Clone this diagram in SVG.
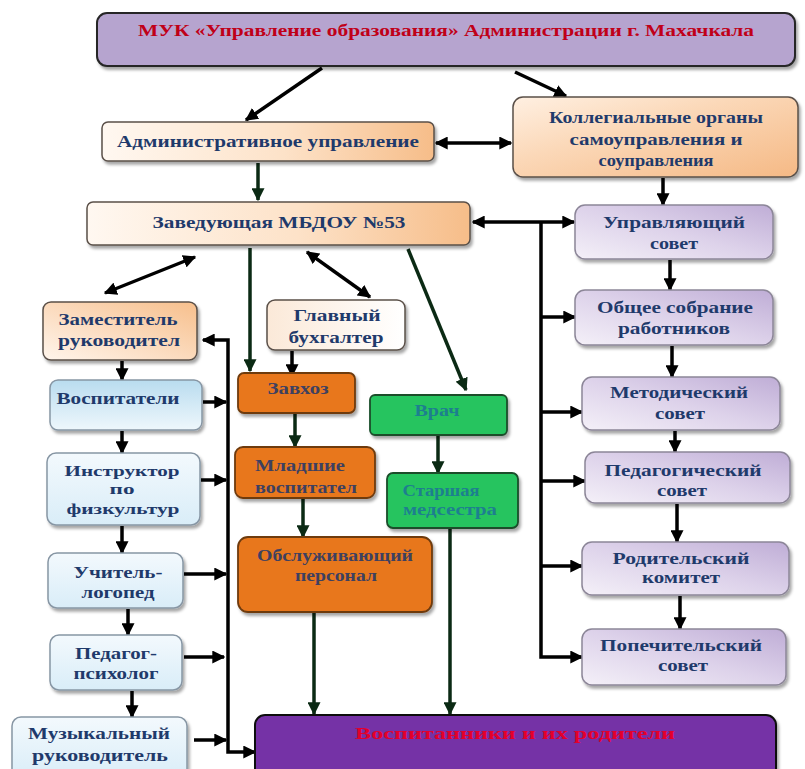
<svg xmlns="http://www.w3.org/2000/svg" width="805" height="769" viewBox="0 0 805 769">
<defs>
  <linearGradient id="peachH" x1="0" y1="0" x2="1" y2="0">
    <stop offset="0" stop-color="#fff8f1"/>
    <stop offset="0.55" stop-color="#fde2c8"/>
    <stop offset="1" stop-color="#f6bd89"/>
  </linearGradient>
  <linearGradient id="peachD" x1="0" y1="1" x2="1" y2="0">
    <stop offset="0" stop-color="#fff5ec"/>
    <stop offset="1" stop-color="#f7bf8c"/>
  </linearGradient>
  <linearGradient id="koll" x1="0" y1="0" x2="1" y2="1">
    <stop offset="0" stop-color="#fff0e2"/>
    <stop offset="0.4" stop-color="#fbd8b8"/>
    <stop offset="1" stop-color="#f5b985"/>
  </linearGradient>
  <linearGradient id="pale" x1="0" y1="0" x2="1" y2="0">
    <stop offset="0" stop-color="#fbe9d8"/>
    <stop offset="1" stop-color="#ffffff"/>
  </linearGradient>
  <linearGradient id="lav" x1="0" y1="1" x2="1" y2="0">
    <stop offset="0" stop-color="#f4f0f8"/>
    <stop offset="0.5" stop-color="#ddd2ea"/>
    <stop offset="1" stop-color="#bfadd6"/>
  </linearGradient>
  <linearGradient id="blue" x1="0" y1="0" x2="0" y2="1">
    <stop offset="0" stop-color="#b9dcef"/>
    <stop offset="1" stop-color="#eef7fc"/>
  </linearGradient>
  <linearGradient id="lblue" x1="0" y1="0" x2="0" y2="1">
    <stop offset="0" stop-color="#f3f9fd"/>
    <stop offset="1" stop-color="#d9edf8"/>
  </linearGradient>
  <filter id="sh" x="-10%" y="-10%" width="125%" height="140%">
    <feDropShadow dx="2" dy="3" stdDeviation="1.5" flood-color="#000" flood-opacity="0.35"/>
  </filter>
  <marker id="ah" viewBox="0 0 10 10" refX="9" refY="5" markerUnits="userSpaceOnUse" markerWidth="13" markerHeight="13" orient="auto-start-reverse">
    <path d="M0,0 L10,5 L0,10 z" fill="#000"/>
  </marker>
  <marker id="ag" viewBox="0 0 10 10" refX="9" refY="5" markerUnits="userSpaceOnUse" markerWidth="13" markerHeight="13" orient="auto-start-reverse">
    <path d="M0,0 L10,5 L0,10 z" fill="#0b2a14"/>
  </marker>
</defs>
<style>
  .t{font-family:"Liberation Serif","Times New Roman",serif;font-weight:bold;font-size:17px;text-anchor:middle}
  .s{font-size:15.5px}
  .navy{fill:#1f3a6b}
  .red{fill:#c00018}
  .slate{fill:#3d4060}
  .teal{fill:#1d7f8f}
  .ln{fill:none;stroke:#000;stroke-width:3.5}
  .lg{fill:none;stroke:#0b2a14;stroke-width:3.5}
  .pe{stroke:#5a5048;stroke-width:1.5}
  .lv{fill:url(#lav);stroke:#8c8698;stroke-width:1.5}
  .lb{stroke:#8796a4;stroke-width:1.5}
  .or{fill:#e8771f;stroke:#6e3a0c;stroke-width:1.8}
  .gr{fill:#25c45f;stroke:#1b4d2a;stroke-width:1.8}
</style>
<rect width="805" height="769" fill="#ffffff"/>

<g id="connectors">
  <line class="ln" x1="322" y1="68" x2="246" y2="120" marker-end="url(#ah)"/>
  <line class="ln" x1="515" y1="72" x2="566" y2="96" marker-end="url(#ah)"/>
  <line class="ln" x1="436" y1="143" x2="511" y2="143" marker-start="url(#ah)" marker-end="url(#ah)"/>
  <line class="lg" x1="258" y1="163" x2="258" y2="200" marker-end="url(#ag)"/>
  <line class="ln" x1="663" y1="178" x2="663" y2="205" marker-end="url(#ah)"/>
  <line class="ln" x1="473" y1="222" x2="574" y2="222" marker-start="url(#ah)" marker-end="url(#ah)"/>
  <path class="ln" d="M541,222 V657 H582" marker-end="url(#ah)"/>
  <line class="ln" x1="541" y1="317" x2="575" y2="317" marker-end="url(#ah)"/>
  <line class="ln" x1="541" y1="412" x2="582" y2="412" marker-end="url(#ah)"/>
  <line class="ln" x1="541" y1="481" x2="585" y2="481" marker-end="url(#ah)"/>
  <line class="ln" x1="541" y1="566" x2="582" y2="566" marker-end="url(#ah)"/>
  <line class="ln" x1="670" y1="260" x2="670" y2="290" marker-end="url(#ah)"/>
  <line class="ln" x1="672" y1="346" x2="672" y2="377" marker-end="url(#ah)"/>
  <line class="ln" x1="675" y1="431" x2="675" y2="452" marker-end="url(#ah)"/>
  <line class="ln" x1="677" y1="504" x2="677" y2="542" marker-end="url(#ah)"/>
  <line class="ln" x1="680" y1="596" x2="680" y2="629" marker-end="url(#ah)"/>
  <line class="ln" x1="195" y1="257" x2="105" y2="293" marker-start="url(#ah)" marker-end="url(#ah)"/>
  <line class="lg" x1="250" y1="248" x2="250" y2="371" marker-end="url(#ag)"/>
  <line class="ln" x1="307" y1="252" x2="370" y2="297" marker-start="url(#ah)" marker-end="url(#ah)"/>
  <line class="lg" x1="408" y1="249" x2="466" y2="390" marker-end="url(#ag)"/>
  <line class="ln" x1="292" y1="351" x2="292" y2="376" marker-end="url(#ah)"/>
  <line class="lg" x1="295" y1="414" x2="295" y2="447" marker-end="url(#ag)"/>
  <line class="lg" x1="303" y1="499" x2="303" y2="537" marker-end="url(#ag)"/>
  <line class="lg" x1="438" y1="436" x2="438" y2="473" marker-end="url(#ag)"/>
  <line class="lg" x1="450" y1="529" x2="450" y2="714" marker-end="url(#ag)"/>
  <line class="lg" x1="314" y1="613" x2="314" y2="714" marker-end="url(#ag)"/>
  <line class="ln" x1="122" y1="361" x2="122" y2="380" marker-end="url(#ah)"/>
  <line class="ln" x1="122" y1="431" x2="122" y2="453" marker-end="url(#ah)"/>
  <line class="ln" x1="122" y1="526" x2="122" y2="553" marker-end="url(#ah)"/>
  <line class="ln" x1="128" y1="609" x2="128" y2="635" marker-end="url(#ah)"/>
  <line class="ln" x1="132" y1="691" x2="132" y2="717" marker-end="url(#ah)"/>
  <path class="ln" d="M203,340 H228 V752 H255" marker-start="url(#ah)" marker-end="url(#ah)"/>
  <line class="ln" x1="203" y1="402" x2="226" y2="402" marker-end="url(#ah)"/>
  <line class="ln" x1="201" y1="480" x2="226" y2="480" marker-end="url(#ah)"/>
  <line class="ln" x1="184" y1="574" x2="226" y2="574" marker-end="url(#ah)"/>
  <line class="ln" x1="184" y1="657" x2="224" y2="657" marker-end="url(#ah)"/>
  <line class="ln" x1="194" y1="740" x2="226" y2="740" marker-end="url(#ah)"/>
</g>

<g id="muk">
  <rect x="97" y="13" width="698" height="53" rx="10" fill="#b6a4cf" stroke="#262626" stroke-width="2" filter="url(#sh)"/>
  <text class="t red" x="446" y="36" textLength="616" lengthAdjust="spacingAndGlyphs">МУК «Управление образования» Администрации г. Махачкала</text>
</g>
<g id="adm">
  <rect x="102" y="122" width="332" height="39" rx="6" fill="url(#peachH)" class="pe" filter="url(#sh)"/>
  <text class="t navy" x="268" y="147" textLength="302" lengthAdjust="spacingAndGlyphs">Административное управление</text>
</g>
<g id="koll">
  <rect x="513" y="97" width="285" height="80" rx="10" fill="url(#koll)" class="pe" filter="url(#sh)"/>
  <text class="t navy" x="656" y="123" textLength="214" lengthAdjust="spacingAndGlyphs">Коллегиальные органы</text>
  <text class="t navy" x="656" y="145" textLength="173" lengthAdjust="spacingAndGlyphs">самоуправления и</text>
  <text class="t navy" x="656" y="166" textLength="115" lengthAdjust="spacingAndGlyphs">соуправления</text>
</g>
<g id="zav">
  <rect x="87" y="202" width="383" height="43" rx="6" fill="url(#peachH)" class="pe" filter="url(#sh)"/>
  <text class="t navy" x="279" y="228" textLength="253" lengthAdjust="spacingAndGlyphs">Заведующая МБДОУ №53</text>
</g>
<g id="upr">
  <rect x="575" y="205" width="198" height="54" rx="10" class="lv" filter="url(#sh)"/>
  <text class="t navy" x="674" y="228" textLength="142" lengthAdjust="spacingAndGlyphs">Управляющий</text>
  <text class="t navy" x="674" y="249" textLength="48" lengthAdjust="spacingAndGlyphs">совет</text>
</g>
<g id="obsh">
  <rect x="575" y="290" width="198" height="55" rx="10" class="lv" filter="url(#sh)"/>
  <text class="t navy" x="675" y="313" textLength="156" lengthAdjust="spacingAndGlyphs">Общее собрание</text>
  <text class="t navy" x="674" y="334" textLength="112" lengthAdjust="spacingAndGlyphs">работников</text>
</g>
<g id="metod">
  <rect x="582" y="377" width="198" height="53" rx="10" class="lv" filter="url(#sh)"/>
  <text class="t navy" x="679" y="398" textLength="138" lengthAdjust="spacingAndGlyphs">Методический</text>
  <text class="t navy" x="680" y="419" textLength="50" lengthAdjust="spacingAndGlyphs">совет</text>
</g>
<g id="ped">
  <rect x="585" y="452" width="205" height="51" rx="10" class="lv" filter="url(#sh)"/>
  <text class="t navy" x="683" y="476" textLength="157" lengthAdjust="spacingAndGlyphs">Педагогический</text>
  <text class="t navy" x="682" y="496" textLength="50" lengthAdjust="spacingAndGlyphs">совет</text>
</g>
<g id="rod">
  <rect x="582" y="542" width="207" height="53" rx="10" class="lv" filter="url(#sh)"/>
  <text class="t navy" x="681" y="564" textLength="137" lengthAdjust="spacingAndGlyphs">Родительский</text>
  <text class="t navy" x="681" y="583" textLength="78" lengthAdjust="spacingAndGlyphs">комитет</text>
</g>
<g id="pop">
  <rect x="582" y="629" width="204" height="56" rx="10" class="lv" filter="url(#sh)"/>
  <text class="t navy" x="681" y="651" textLength="162" lengthAdjust="spacingAndGlyphs">Попечительский</text>
  <text class="t navy" x="683" y="671" textLength="50" lengthAdjust="spacingAndGlyphs">совет</text>
</g>
<g id="zam">
  <rect x="43" y="302" width="154" height="58" rx="8" fill="url(#peachD)" class="pe" filter="url(#sh)"/>
  <text class="t navy" x="118" y="325" textLength="119" lengthAdjust="spacingAndGlyphs">Заместитель</text>
  <text class="t navy" x="119" y="346" textLength="122" lengthAdjust="spacingAndGlyphs">руководител</text>
</g>
<g id="vosp">
  <rect x="50" y="380" width="152" height="50" rx="8" fill="url(#blue)" class="lb" filter="url(#sh)"/>
  <text class="t navy" x="118" y="404" textLength="123" lengthAdjust="spacingAndGlyphs">Воспитатели</text>
</g>
<g id="instr">
  <rect x="47" y="453" width="153" height="72" rx="9" fill="url(#lblue)" class="lb" filter="url(#sh)"/>
  <text class="t s navy" x="122" y="476" textLength="115" lengthAdjust="spacingAndGlyphs">Инструктор</text>
  <text class="t s navy" x="122" y="494" textLength="25" lengthAdjust="spacingAndGlyphs">по</text>
  <text class="t s navy" x="123" y="514" textLength="113" lengthAdjust="spacingAndGlyphs">физкультур</text>
</g>
<g id="uch">
  <rect x="48" y="553" width="135" height="55" rx="9" fill="url(#lblue)" class="lb" filter="url(#sh)"/>
  <text class="t navy" x="118" y="578" textLength="89" lengthAdjust="spacingAndGlyphs">Учитель-</text>
  <text class="t navy" x="118" y="598" textLength="73" lengthAdjust="spacingAndGlyphs">логопед</text>
</g>
<g id="psy">
  <rect x="50" y="635" width="132" height="55" rx="9" fill="url(#lblue)" class="lb" filter="url(#sh)"/>
  <text class="t navy" x="116" y="659" textLength="82" lengthAdjust="spacingAndGlyphs">Педагог-</text>
  <text class="t navy" x="116" y="679" textLength="85" lengthAdjust="spacingAndGlyphs">психолог</text>
</g>
<g id="muz">
  <rect x="12" y="717" width="175" height="62" rx="9" fill="url(#lblue)" class="lb" filter="url(#sh)"/>
  <text class="t navy" x="99" y="739" textLength="142" lengthAdjust="spacingAndGlyphs">Музыкальный</text>
  <text class="t navy" x="100" y="761" textLength="136" lengthAdjust="spacingAndGlyphs">руководитель</text>
</g>
<g id="glav">
  <rect x="267" y="300" width="138" height="50" rx="8" fill="url(#pale)" class="pe" filter="url(#sh)"/>
  <text class="t navy" x="337" y="321" textLength="87" lengthAdjust="spacingAndGlyphs">Главный</text>
  <text class="t navy" x="336" y="343" textLength="95" lengthAdjust="spacingAndGlyphs">бухгалтер</text>
</g>
<g id="zavhoz">
  <rect x="238" y="373" width="117" height="40" rx="6" class="or" filter="url(#sh)"/>
  <text class="t slate" x="298" y="394" textLength="61" lengthAdjust="spacingAndGlyphs">Завхоз</text>
</g>
<g id="mlad">
  <rect x="235" y="447" width="140" height="51" rx="8" class="or" filter="url(#sh)"/>
  <text class="t slate" x="300" y="471" textLength="90" lengthAdjust="spacingAndGlyphs">Младшие</text>
  <text class="t slate" x="306" y="493" textLength="102" lengthAdjust="spacingAndGlyphs">воспитател</text>
</g>
<g id="obsl">
  <rect x="238" y="537" width="194" height="75" rx="10" class="or" filter="url(#sh)"/>
  <text class="t slate" x="335" y="561" textLength="156" lengthAdjust="spacingAndGlyphs">Обслуживающий</text>
  <text class="t slate" x="336" y="581" textLength="82" lengthAdjust="spacingAndGlyphs">персонал</text>
</g>
<g id="vrach">
  <rect x="370" y="395" width="137" height="40" rx="5" class="gr" filter="url(#sh)"/>
  <text class="t teal" x="437" y="416" textLength="45" lengthAdjust="spacingAndGlyphs">Врач</text>
</g>
<g id="star">
  <rect x="387" y="473" width="131" height="55" rx="6" class="gr" filter="url(#sh)"/>
  <text class="t teal" x="441" y="496" textLength="77" lengthAdjust="spacingAndGlyphs">Старшая</text>
  <text class="t teal" x="450" y="515" textLength="94" lengthAdjust="spacingAndGlyphs">медсестра</text>
</g>
<g id="vospit">
  <rect x="255" y="715" width="521" height="70" rx="10" fill="#7431a6" stroke="#111" stroke-width="2" filter="url(#sh)"/>
  <text class="t" x="515" y="739" fill="#e3002b" textLength="320" lengthAdjust="spacingAndGlyphs">Воспитанники и их родители</text>
</g>
</svg>
